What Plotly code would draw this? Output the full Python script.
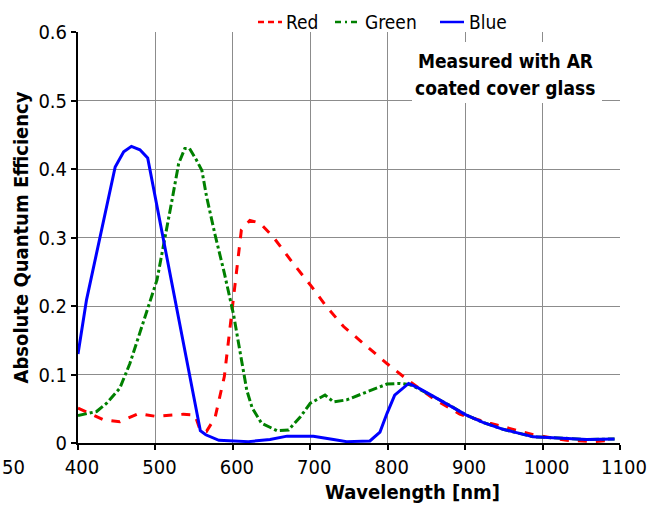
import plotly.graph_objects as go

red_wl = [400, 415, 433, 454, 465, 478, 500, 519, 536, 551, 558, 566, 577, 589, 600, 611, 622, 635, 652, 678, 702, 721, 743, 773, 799, 827, 859, 880, 893, 932, 988, 1031, 1065, 1091]
red_qe = [0.051, 0.043, 0.034, 0.031, 0.036, 0.043, 0.039, 0.041, 0.042, 0.041, 0.018, 0.017, 0.037, 0.097, 0.202, 0.311, 0.325, 0.321, 0.301, 0.262, 0.228, 0.199, 0.170, 0.141, 0.116, 0.091, 0.065, 0.051, 0.042, 0.029, 0.012, 0.004, 0.002, 0.004]

green_wl = [400, 424, 437, 454, 467, 487, 502, 521, 530, 538, 544, 553, 560, 566, 577, 589, 601, 609, 618, 625, 637, 657, 672, 687, 700, 719, 730, 747, 769, 799, 816, 829, 842, 859, 880, 901, 923, 949, 988, 1027, 1057, 1093]
green_qe = [0.040, 0.046, 0.058, 0.080, 0.116, 0.184, 0.238, 0.352, 0.408, 0.430, 0.430, 0.413, 0.398, 0.360, 0.304, 0.248, 0.187, 0.135, 0.077, 0.051, 0.029, 0.018, 0.019, 0.038, 0.058, 0.070, 0.060, 0.063, 0.073, 0.086, 0.087, 0.085, 0.078, 0.068, 0.055, 0.041, 0.030, 0.020, 0.009, 0.007, 0.005, 0.006]

blue_wl = [400, 411, 448, 459, 469, 480, 490, 558, 565, 582, 620, 648, 670, 704, 730, 747, 777, 790, 799, 809, 827, 840, 859, 880, 901, 923, 949, 988, 1027, 1057, 1093]
blue_qe = [0.130, 0.209, 0.403, 0.425, 0.433, 0.428, 0.416, 0.018, 0.012, 0.004, 0.002, 0.005, 0.010, 0.010, 0.005, 0.002, 0.003, 0.016, 0.043, 0.070, 0.087, 0.080, 0.068, 0.054, 0.041, 0.030, 0.020, 0.009, 0.007, 0.005, 0.006]

series_names = ["Red", "Green", "Blue"]
x_ticks = [400, 500, 600, 700, 800, 900, 1000, 1100]
y_ticks = [0, 0.1, 0.2, 0.3, 0.4, 0.5, 0.6]
y_tick_text = ["0", "0.1", "0.2", "0.3", "0.4", "0.5", "0.6"]

FONT = "DejaVu Sans Condensed, DejaVu Sans, sans-serif"
colors = ["#ff0000", "#008000", "#0000ff"]
dashes = ["dash", "dashdot", "solid"]

fig = go.Figure()
for wl, qe, nm, c, d in zip([red_wl, green_wl, blue_wl], [red_qe, green_qe, blue_qe],
                            series_names, colors, dashes):
    fig.add_trace(go.Scatter(x=wl, y=qe, name=nm, mode="lines", showlegend=False,
                             line=dict(color=c, width=3, dash=d)))

fig.update_layout(
    width=664, height=505, autosize=False,
    margin=dict(l=78, r=44, t=32, b=62, autoexpand=False),
    plot_bgcolor="white", paper_bgcolor="white",
    font=dict(family=FONT, size=20, color="black"),
    showlegend=False,
    xaxis=dict(range=[400, 1100], tickvals=x_ticks, ticks="outside", ticklen=5,
               tickwidth=2, tickcolor="black", automargin=False, ticklabelshift=4,
               showline=True, linecolor="black", linewidth=2,
               showgrid=True, gridcolor="#8c8c8c", gridwidth=1, zeroline=False),
    yaxis=dict(range=[0, 0.6], tickvals=y_ticks, ticktext=y_tick_text, ticks="outside",
               ticklen=5, tickwidth=2, tickcolor="black", automargin=False,
               showline=True, linecolor="black", linewidth=2,
               showgrid=True, gridcolor="#8c8c8c", gridwidth=1, zeroline=False,
               title=dict(text="<b>Absolute Quantum Efficiency</b>", font=dict(size=20), standoff=4)),
)

# plot area geometry in page pixels (for paper coordinates of annotations)
PX0, PX1, PY0, PY1 = 78.0, 620.0, 32.0, 443.0
def px(x):
    return (x - PX0) / (PX1 - PX0)
def py(y):
    return (PY1 - y) / (PY1 - PY0)

# x-axis title
fig.add_annotation(text="<b>Wavelength [nm]</b>", xref="paper", yref="paper",
                   x=px(412), y=py(492), xanchor="center", yanchor="middle",
                   showarrow=False, font=dict(size=20))

# legend drawn by hand (short samples like the reference)
legend_samples = [(258, 282, 284), (335, 360, 363), (440, 464, 467)]
dash_patterns = {"dash": "6px,4px", "dashdot": "6px,4px,2px,4px", "solid": "solid"}
for (x0, x1, xt), nm, c, d in zip(legend_samples, series_names, colors, dashes):
    fig.add_shape(type="line", xref="paper", yref="paper", x0=px(x0), x1=px(x1),
                  y0=py(22), y1=py(22), line=dict(color=c, width=2.5, dash=dash_patterns[d]))
    fig.add_annotation(text=nm, xref="paper", yref="paper", x=px(xt), y=py(22),
                       xanchor="left", yanchor="middle", showarrow=False,
                       font=dict(size=19))

# boxed note
fig.add_shape(type="rect", xref="paper", yref="paper", x0=px(412), x1=px(602),
              y0=py(103), y1=py(42), fillcolor="white", line=dict(width=0), layer="above")
fig.add_annotation(text="<b>Measured with AR</b>", xref="paper", yref="paper",
                   x=px(505), y=py(61), xanchor="center", yanchor="middle",
                   showarrow=False, font=dict(size=19))
fig.add_annotation(text="<b>coated cover glass</b>", xref="paper", yref="paper",
                   x=px(505), y=py(88), xanchor="center", yanchor="middle",
                   showarrow=False, font=dict(size=19))

# stray tick-label fragment at the lower left of the reference
fig.add_annotation(text="50", xref="paper", yref="paper", x=px(0), y=py(467),
                   xanchor="left", yanchor="middle", showarrow=False, font=dict(size=20))

# remove the default 8px page margin so the figure fills the window exactly
fig.write_html("out.html", config={"displayModeBar": False},
               post_script="document.body.style.margin='0';")
